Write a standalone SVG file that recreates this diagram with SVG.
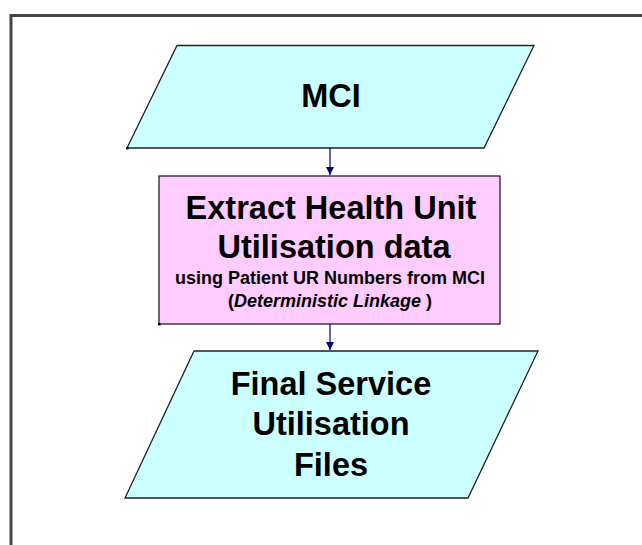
<svg xmlns="http://www.w3.org/2000/svg" width="642" height="545" viewBox="0 0 642 545">
<style>
.io{fill:#ccffff;stroke:#222;stroke-width:1.3}
.proc{fill:#ffccff;stroke:#222;stroke-width:1.3}
.t{font-family:"Liberation Sans",Arial,sans-serif;font-weight:bold;fill:#000;text-anchor:middle}
.big{font-size:32.5px}
.small{font-size:18px}
.conn{stroke:#000080;stroke-width:1.2;fill:none}
.mark{fill:#000}
</style>
<defs>
<marker id="arr" viewBox="0 0 10 10" refX="10" refY="5" markerWidth="8" markerHeight="8" markerUnits="userSpaceOnUse" orient="auto">
<path d="M0,0 L10,5 L0,10 z" fill="#000080"/>
</marker>
</defs>
<rect width="642" height="545" fill="#fff"/>
<rect x="11" y="15.5" width="700" height="600" fill="none" stroke="#474747" stroke-width="3"/>
<g id="mci">
<polygon class="io" points="177,45.5 534,45.5 484,148 127,148"/>
<rect class="mark" x="126" y="147" width="2.5" height="2.5"/>
<text class="t big" x="331" y="107">MCI</text>
</g>
<g id="extract">
<rect class="proc" x="159" y="176" width="341" height="148"/>
<rect class="mark" x="158" y="323" width="2.5" height="2.5"/>
<text class="t big" x="331" y="219">Extract Health Unit</text>
<text class="t big" x="334" y="258">Utilisation data</text>
<text class="t small" x="330" y="284">using Patient UR Numbers from MCI</text>
<text class="t small" x="330" y="307">(<tspan font-style="italic">Deterministic Linkage</tspan> )</text>
</g>
<g id="final">
<polygon class="io" points="194,351 538,351 468,498 125,498"/>
<text class="t big" x="331" y="395">Final Service</text>
<text class="t big" x="331" y="435">Utilisation</text>
<text class="t big" x="331" y="476">Files</text>
</g>
<g id="connectors">
<line class="conn" x1="330" y1="148" x2="330" y2="175" marker-end="url(#arr)"/>
<line class="conn" x1="330" y1="324" x2="330" y2="350" marker-end="url(#arr)"/>
</g>
</svg>
